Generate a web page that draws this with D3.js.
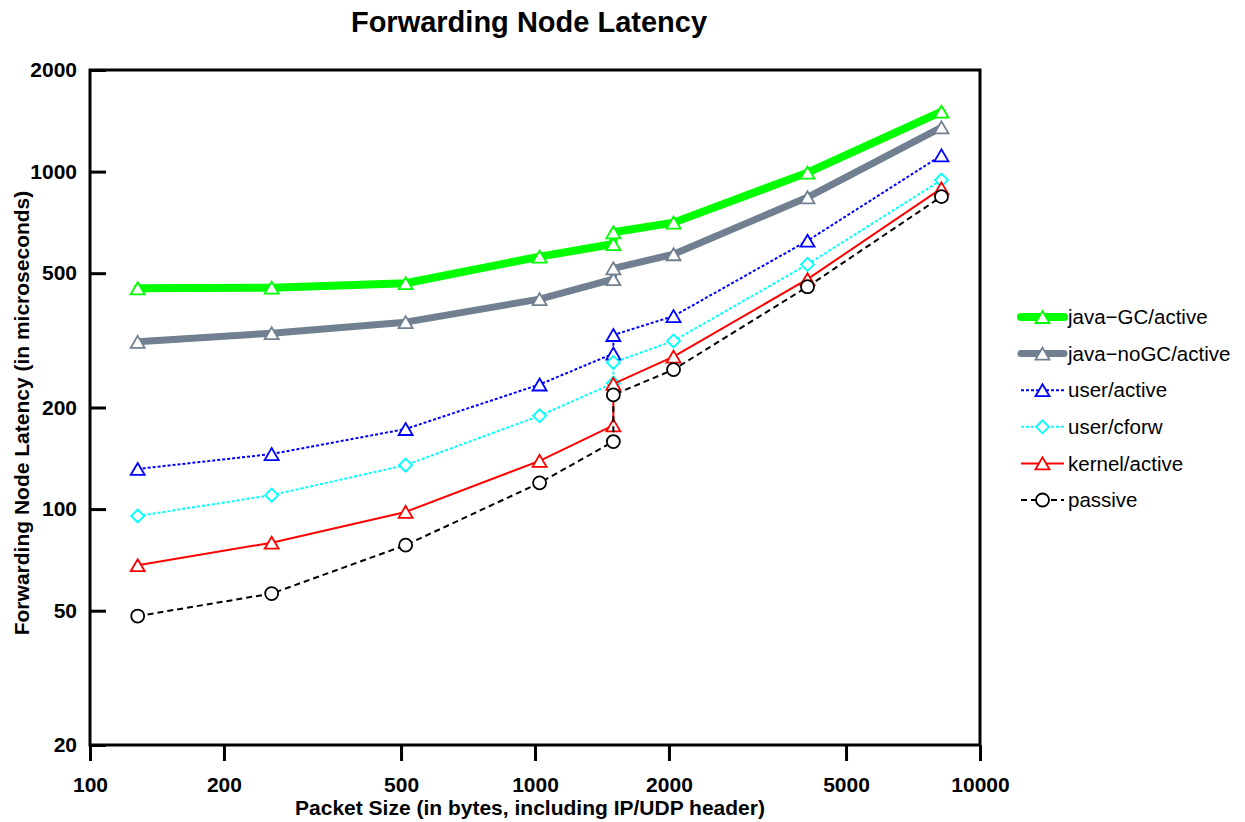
<html>
<head>
	<meta http-equiv="Content-Type" content="text/html; charset=utf-8" />
	<script src="https://cdn.jsdelivr.net/npm/d3@7/dist/d3.min.js" charset="utf-8"></script>

	<style type="text/css">
	body {
	  background-color: #fff;
	  margin: 0;
	}
	text {
	  font-family: "Liberation Sans", Arial, Helvetica, sans-serif;
	}
	.axis path { display: none; }
	.axis line { stroke: black; stroke-width: 3px; }
	.axis text { font-size: 21px; font-weight: bold; fill: black; }
	</style>
</head>
<body>

	<svg width="1245" height="822" version="1.1" xmlns="http://www.w3.org/2000/svg">
	</svg>

	<script type="text/javascript">
		// packet size in bytes (1500 is measured twice, around the MTU)
		var v_Sizes        = [128, 256, 512, 1024, 1500, 1500, 2048, 4096, 8192];

		// latency in microseconds
		var v_JavaGC       = [451, 453, 467, 560, 610, 661, 706, 993, 1505];
		var v_JavaNoGC     = [313, 332, 358, 419, 480, 517, 569, 839, 1352];
		var v_UserActive   = [131.5, 145.6, 172.7, 234, 289, 328, 373, 624, 1117];
		var v_UserCforw    = [95.4, 110, 135, 189, 236, 272, 315, 531, 944];
		var v_KernelActive = [68.2, 79.5, 98.1, 139, 177, 235, 283, 480, 892];
		var v_Passive      = [48.2, 56.2, 78.2, 119.6, 158.5, 218, 259, 456, 843];

		var v_XTicks       = [100, 200, 500, 1000, 2000, 5000, 10000];
		var v_YTicks       = [20, 50, 100, 200, 500, 1000, 2000];

		var v_Names        = ["java\u2212GC/active", "java\u2212noGC/active", "user/active", "user/cforw", "kernel/active", "passive"];
		var v_Values       = [v_JavaGC, v_JavaNoGC, v_UserActive, v_UserCforw, v_KernelActive, v_Passive];

		// line / marker styles per series
		var v_Styles = [
			{color: "#00ff00", width: 8,   dash: null,  shape: "tri"},
			{color: "#708090", width: 7,   dash: null,  shape: "tri"},
			{color: "#0000ff", width: 2,   dash: "3,2", shape: "tri"},
			{color: "#00ffff", width: 2,   dash: "3,2", shape: "dia"},
			{color: "#ff0000", width: 2,   dash: null,  shape: "tri"},
			{color: "#000000", width: 2,   dash: "6,4", shape: "cir"}
		];

		var v_SVG     = d3.select("svg");
		var v_Left    = 90, v_Right = 980, v_Top = 70, v_Bottom = 745;

		var v_xScale  = d3.scaleLog().domain([100, 10000]).range([v_Left, v_Right]);
		var v_yScale  = d3.scaleLog().domain([20, 2000]).range([v_Bottom, v_Top]);

		// title
		v_SVG.append("text")
			.attr("x", 529).attr("y", 32)
			.attr("text-anchor", "middle")
			.attr("font-size", "29px").attr("font-weight", "bold")
			.text("Forwarding Node Latency");

		// x axis, ticks outside
		v_SVG.append("g")
			.attr("class", "axis")
			.attr("transform", "translate(0," + v_Bottom + ")")
			.call(d3.axisBottom(v_xScale).tickValues(v_XTicks).tickFormat(d3.format("d")).tickSize(16).tickPadding(16));

		// y axis, ticks inside
		v_SVG.append("g")
			.attr("class", "axis")
			.attr("transform", "translate(" + v_Left + ",0)")
			.call(d3.axisLeft(v_yScale).tickValues(v_YTicks).tickFormat(d3.format("d")).tickSize(-16).tickPadding(13));

		// frame
		v_SVG.append("rect")
			.attr("x", v_Left).attr("y", v_Top)
			.attr("width", v_Right - v_Left).attr("height", v_Bottom - v_Top)
			.attr("fill", "none").attr("stroke", "black").attr("stroke-width", 3);

		// axis titles
		v_SVG.append("text")
			.attr("x", 530).attr("y", 815)
			.attr("text-anchor", "middle")
			.attr("font-size", "21px").attr("font-weight", "bold")
			.text("Packet Size (in bytes, including IP/UDP header)");

		v_SVG.append("text")
			.attr("transform", "translate(29,413) rotate(-90)")
			.attr("text-anchor", "middle")
			.attr("font-size", "21px").attr("font-weight", "bold")
			.text("Forwarding Node Latency (in microseconds)");


		function f_Marker(i_G, i_Style, i_X, i_Y)
		{
			var v_M;
			if ( i_Style.shape == "tri" )
			{
				v_M = i_G.append("path").attr("d", "M" + i_X + "," + (i_Y - 6) + "L" + (i_X + 7) + "," + (i_Y + 6) + "L" + (i_X - 7) + "," + (i_Y + 6) + "Z");
			}
			else if ( i_Style.shape == "dia" )
			{
				v_M = i_G.append("path").attr("d", "M" + i_X + "," + (i_Y - 6.5) + "L" + (i_X + 6.5) + "," + i_Y + "L" + i_X + "," + (i_Y + 6.5) + "L" + (i_X - 6.5) + "," + i_Y + "Z");
			}
			else
			{
				v_M = i_G.append("circle").attr("cx", i_X).attr("cy", i_Y).attr("r", 6.5);
			}
			v_M.attr("fill", "white").attr("stroke", i_Style.color).attr("stroke-width", 1.8);
		}

		var v_Line = d3.line()
			.x(function(d) { return v_xScale(d[0]); })
			.y(function(d) { return v_yScale(d[1]); });

		// series
		v_Values.forEach(function(i_Vals, i)
		{
			var v_Style = v_Styles[i];
			var v_Pts   = i_Vals.map(function(v, j) { return [v_Sizes[j], v]; });
			var v_G     = v_SVG.append("g");

			v_G.append("path")
				.attr("d", v_Line(v_Pts))
				.attr("fill", "none")
				.attr("stroke", v_Style.color)
				.attr("stroke-width", v_Style.width)
				.attr("stroke-linejoin", "round")
				.attr("stroke-linecap", v_Style.width > 3 ? "round" : "butt")
				.attr("stroke-dasharray", v_Style.dash);

			v_Pts.forEach(function(p)
			{
				f_Marker(v_G, v_Style, v_xScale(p[0]), v_yScale(p[1]));
			});
		});

		// legend
		v_Names.forEach(function(i_Name, i)
		{
			var v_Style = v_Styles[i];
			var v_Y     = 317 + i * 36.6;
			var v_G     = v_SVG.append("g");

			v_G.append("line")
				.attr("x1", 1021).attr("x2", 1064)
				.attr("y1", v_Y).attr("y2", v_Y)
				.attr("stroke", v_Style.color)
				.attr("stroke-width", v_Style.width)
				.attr("stroke-linecap", v_Style.width > 3 ? "round" : "butt")
				.attr("stroke-dasharray", v_Style.dash);

			f_Marker(v_G, v_Style, 1042.5, v_Y);

			v_G.append("text")
				.attr("x", 1068).attr("y", v_Y)
				.attr("dy", "0.35em")
				.attr("font-size", "20.5px")
				.text(i_Name);
		});
	</script>

</body>
</html>
